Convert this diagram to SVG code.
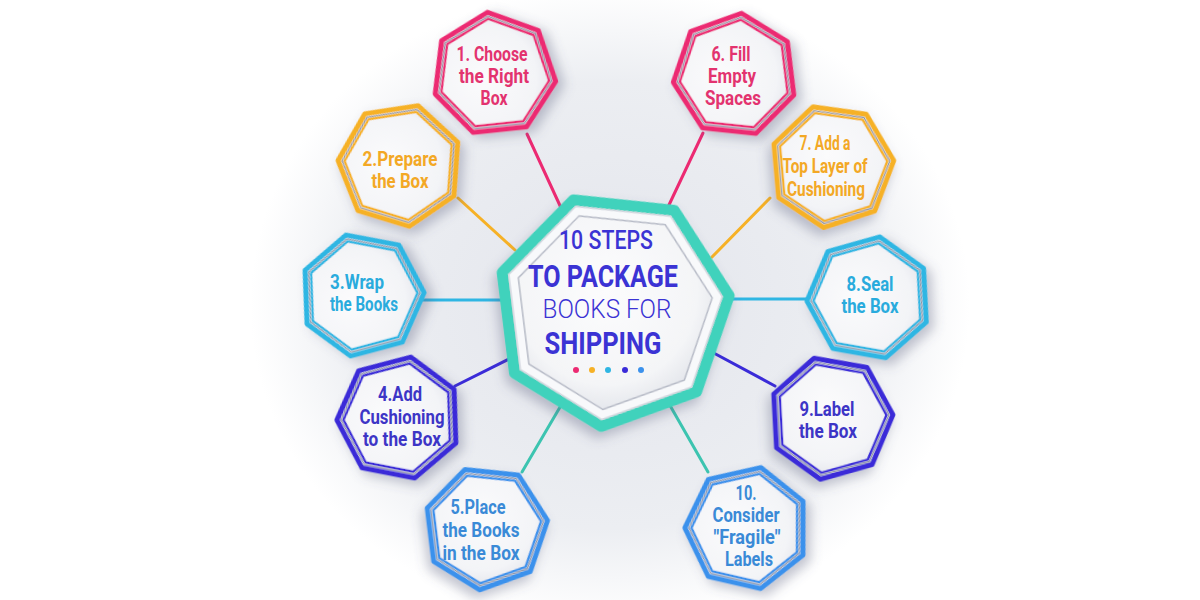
<svg xmlns="http://www.w3.org/2000/svg" xmlns:xlink="http://www.w3.org/1999/xlink" width="1200" height="600" viewBox="0 0 1200 600">
<style>
  .lbl{font-family:Roboto,"Liberation Sans",sans-serif;font-weight:700;font-size:21px;text-anchor:middle}
  .ttl{font-family:Roboto,"Liberation Sans",sans-serif;text-anchor:middle;fill:#3b33d4}
  .pink{color:#ec2a72}.pink text{fill:#e3336f}
  .orange{color:#f6b126}.orange text{fill:#f3a825}
  .cyan{color:#2fb6e3}.cyan text{fill:#29abdd}
  .indigo{color:#3a2bd8}.indigo text{fill:#3d35c6}
  .blue{color:#3b91ec}.blue text{fill:#3a8ad7}
  .conn line{stroke-width:3;stroke-linecap:round}
</style>
<defs>
  <radialGradient id="bg" cx="0.5" cy="0.5" r="0.5">
    <stop offset="0" stop-color="#e3e5ec"/>
    <stop offset="0.7" stop-color="#eceef2"/>
    <stop offset="1" stop-color="#ffffff"/>
  </radialGradient>
  <radialGradient id="face" cx="0.45" cy="0.4" r="0.6">
    <stop offset="0" stop-color="#fbfbfc"/>
    <stop offset="0.75" stop-color="#f3f4f7"/>
    <stop offset="1" stop-color="#e3e5eb"/>
  </radialGradient>
  <radialGradient id="cface" cx="0.45" cy="0.4" r="0.6">
    <stop offset="0" stop-color="#fcfcfd"/>
    <stop offset="0.8" stop-color="#f4f5f7"/>
    <stop offset="1" stop-color="#e6e8ed"/>
  </radialGradient>
  <filter id="sh" x="-40%" y="-40%" width="180%" height="180%">
    <feDropShadow dx="-4" dy="6" stdDeviation="6" flood-color="#555b7a" flood-opacity="0.35"/>
  </filter>
  <g id="hept">
    <polygon points="62,0 38.656,48.473 -13.796,60.446 -55.86,26.901 -55.86,-26.901 -13.796,-60.446 38.656,-48.473" fill="url(#face)" stroke="currentColor" stroke-width="5" stroke-linejoin="round"/>
    <polygon points="58,0 36.162,45.346 -12.906,56.546 -52.256,25.165 -52.256,-25.165 -12.906,-56.546 36.162,-45.346" fill="none" stroke="#8c91a2" stroke-width="1.1" stroke-linejoin="round"/>
    <polygon points="55.5,0 34.604,43.392 -12.35,54.109 -50.004,24.08 -50.004,-24.08 -12.35,-54.109 34.604,-43.392" fill="none" stroke="currentColor" stroke-width="2.4" stroke-linejoin="round"/>
  </g>
</defs>
<rect width="1200" height="600" fill="#ffffff"/>
<ellipse cx="610" cy="305" rx="360" ry="320" fill="url(#bg)"/>

<g id="connectors" class="conn">
  <line x1="527" y1="134" x2="562" y2="210" stroke="#ec2a72"/>
  <line x1="703" y1="133" x2="668" y2="207" stroke="#ec2a72"/>
  <line x1="458" y1="198" x2="515" y2="250" stroke="#f6b126"/>
  <line x1="770" y1="198" x2="712" y2="257" stroke="#f6b126"/>
  <line x1="420" y1="300" x2="505" y2="300" stroke="#2fb6e3"/>
  <line x1="808" y1="299" x2="725" y2="299" stroke="#2fb6e3"/>
  <line x1="455" y1="386" x2="515" y2="356" stroke="#3a2bd8"/>
  <line x1="775" y1="386" x2="710" y2="351" stroke="#3a2bd8"/>
  <line x1="522" y1="472" x2="563" y2="402" stroke="#3cc4b0"/>
  <line x1="708" y1="472" x2="668" y2="402" stroke="#3cc4b0"/>
</g>

<g id="center">
  <g transform="translate(613,310) rotate(-7)" filter="url(#sh)">
    <polygon points="117,0 72.948,91.474 -26.035,114.067 -105.413,50.764 -105.413,-50.764 -26.035,-114.067 72.948,-91.474" fill="#eef0f4" stroke="#3fd2bc" stroke-width="11" stroke-linejoin="round"/>
    <polygon points="110,0 68.584,86.001 -24.477,107.242 -99.107,47.727 -99.107,-47.727 -24.477,-107.242 68.584,-86.001" fill="#f8f9fb" stroke="#d3d6de" stroke-width="1.5" stroke-linejoin="round"/>
    <polygon points="100,0 62.349,78.183 -22.252,97.493 -90.097,43.388 -90.097,-43.388 -22.252,-97.493 62.349,-78.183" fill="url(#cface)" stroke="#b6bac6" stroke-width="1.5" stroke-linejoin="round"/>
  </g>
  <text class="ttl" x="606" y="249" font-size="25" font-weight="500" textLength="94" lengthAdjust="spacingAndGlyphs">10 STEPS</text>
  <text class="ttl" x="603" y="287" font-size="31" font-weight="700" textLength="150" lengthAdjust="spacingAndGlyphs">TO PACKAGE</text>
  <text class="ttl" x="607" y="318" font-size="25" font-weight="300" textLength="129" lengthAdjust="spacingAndGlyphs">BOOKS FOR</text>
  <text class="ttl" x="603" y="354" font-size="32" font-weight="700" textLength="117" lengthAdjust="spacingAndGlyphs">SHIPPING</text>
  <circle cx="576" cy="370" r="3" fill="#ec2a72"/>
  <circle cx="592" cy="370" r="3" fill="#f6b126"/>
  <circle cx="608" cy="370" r="3" fill="#2fb6e3"/>
  <circle cx="625" cy="370" r="3" fill="#3a2bd8"/>
  <circle cx="641" cy="370" r="3" fill="#3b91ec"/>
</g>

<g id="node1" class="pink">
  <use href="#hept" transform="translate(494,74) rotate(-96)" filter="url(#sh)"/>
  <text class="lbl" x="492" y="61" textLength="71" lengthAdjust="spacingAndGlyphs">1. Choose</text>
  <text class="lbl" x="494" y="83" textLength="70" lengthAdjust="spacingAndGlyphs">the Right</text>
  <text class="lbl" x="494" y="105" textLength="27" lengthAdjust="spacingAndGlyphs">Box</text>
</g>
<g id="node2" class="orange">
  <use href="#hept" transform="translate(400,165) rotate(-73)" filter="url(#sh)"/>
  <text class="lbl" x="400" y="165.5" textLength="75" lengthAdjust="spacingAndGlyphs">2.Prepare</text>
  <text class="lbl" x="400" y="187.5" textLength="57" lengthAdjust="spacingAndGlyphs">the Box</text>
</g>
<g id="node3" class="cyan">
  <use href="#hept" transform="translate(362,295) rotate(-105)" filter="url(#sh)"/>
  <text class="lbl" x="357" y="288.5" textLength="54" lengthAdjust="spacingAndGlyphs">3.Wrap</text>
  <text class="lbl" x="364" y="310.5" textLength="68" lengthAdjust="spacingAndGlyphs">the Books</text>
</g>
<g id="node4" class="indigo">
  <use href="#hept" transform="translate(399,418) rotate(-79)" filter="url(#sh)"/>
  <text class="lbl" x="400" y="400.5" textLength="44" lengthAdjust="spacingAndGlyphs">4.Add</text>
  <text class="lbl" x="402" y="423.5" textLength="85" lengthAdjust="spacingAndGlyphs">Cushioning</text>
  <text class="lbl" x="402" y="445.5" textLength="78" lengthAdjust="spacingAndGlyphs">to the Box</text>
</g>
<g id="node5" class="blue">
  <use href="#hept" transform="translate(486,528) rotate(-7)" filter="url(#sh)"/>
  <text class="lbl" x="478" y="513.5" textLength="55" lengthAdjust="spacingAndGlyphs">5.Place</text>
  <text class="lbl" x="481" y="536.5" textLength="77" lengthAdjust="spacingAndGlyphs">the Books</text>
  <text class="lbl" x="481" y="559.5" textLength="77" lengthAdjust="spacingAndGlyphs">in the Box</text>
</g>
<g id="node6" class="pink">
  <use href="#hept" transform="translate(735,75) rotate(-84)" filter="url(#sh)"/>
  <text class="lbl" x="731" y="61" textLength="39" lengthAdjust="spacingAndGlyphs">6. Fill</text>
  <text class="lbl" x="732" y="83" textLength="48" lengthAdjust="spacingAndGlyphs">Empty</text>
  <text class="lbl" x="733" y="105" textLength="56" lengthAdjust="spacingAndGlyphs">Spaces</text>
</g>
<g id="node7" class="orange">
  <use href="#hept" transform="translate(832,166) rotate(-5)" filter="url(#sh)"/>
  <text class="lbl" x="825" y="149.5" font-size="17" textLength="51" lengthAdjust="spacingAndGlyphs">7. Add a</text>
  <text class="lbl" x="825" y="172.5" font-size="17" textLength="85" lengthAdjust="spacingAndGlyphs">Top Layer of</text>
  <text class="lbl" x="826" y="195.5" font-size="17" textLength="78" lengthAdjust="spacingAndGlyphs">Cushioning</text>
</g>
<g id="node8" class="cyan">
  <use href="#hept" transform="translate(869,298) rotate(-80)" filter="url(#sh)"/>
  <text class="lbl" x="870" y="290.5" textLength="47" lengthAdjust="spacingAndGlyphs">8.Seal</text>
  <text class="lbl" x="870" y="312.5" textLength="57" lengthAdjust="spacingAndGlyphs">the Box</text>
</g>
<g id="node9" class="indigo">
  <use href="#hept" transform="translate(831,418) rotate(-3)" filter="url(#sh)"/>
  <text class="lbl" x="827" y="415.5" textLength="55" lengthAdjust="spacingAndGlyphs">9.Label</text>
  <text class="lbl" x="828" y="437.5" textLength="58" lengthAdjust="spacingAndGlyphs">the Box</text>
</g>
<g id="node10" class="blue">
  <use href="#hept" transform="translate(747,528) rotate(-77)" filter="url(#sh)"/>
  <text class="lbl" x="746" y="500" font-size="18.5" textLength="21" lengthAdjust="spacingAndGlyphs">10.</text>
  <text class="lbl" x="746" y="522" font-size="18.5" textLength="67" lengthAdjust="spacingAndGlyphs">Consider</text>
  <text class="lbl" x="747" y="544" font-size="18.5" textLength="67" lengthAdjust="spacingAndGlyphs">"Fragile"</text>
  <text class="lbl" x="749" y="566" font-size="18.5" textLength="48" lengthAdjust="spacingAndGlyphs">Labels</text>
</g>
</svg>
